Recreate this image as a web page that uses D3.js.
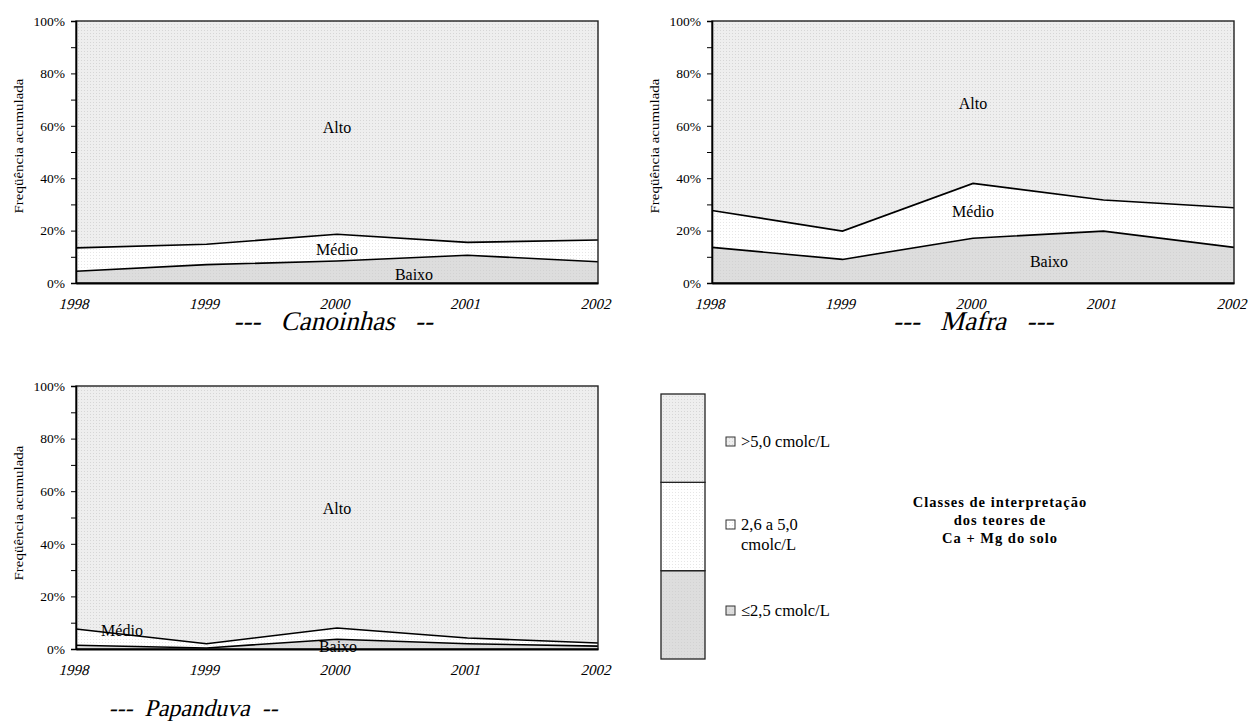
<!DOCTYPE html>
<html>
<head>
<meta charset="utf-8">
<script src="https://cdn.jsdelivr.net/npm/d3@7"></script>
<style>
  html, body { margin: 0; padding: 0; background: #fff; }
  svg { display: block; }
  svg text { font-family: "Liberation Serif", "Times New Roman", serif; fill: #000; }
</style>
</head>
<body>
<svg id="chart" width="1249" height="724"></svg>
<script>
// Years sampled
const years = [1998, 1999, 2000, 2001, 2002];
const classKeys = ["baixo", "medio", "alto"];
const classNames = ["Baixo", "Médio", "Alto"];
const yTicks = [0, 10, 20, 30, 40, 50, 60, 70, 80, 90, 100];

// Share of samples (%) in each Ca + Mg class, per municipality
const canoinhasBaixo = [4.5, 7.0, 8.4, 10.6, 8.1];
const canoinhasMedio = [8.9, 7.8, 10.2, 4.9, 8.3];
const mafraBaixo = [13.6, 9.0, 17.1, 19.8, 13.6];
const mafraMedio = [14.1, 10.8, 20.9, 11.9, 15.1];
const papanduvaBaixo = [1.4, 0.4, 3.7, 2.0, 1.1];
const papanduvaMedio = [6.2, 1.6, 4.3, 2.2, 1.2];

// Legend entries
const legendLabels = [[">5,0 cmolc/L"], ["2,6 a 5,0", "cmolc/L"], ["\u22642,5 cmolc/L"]];
const legendTitle = ["Classes de interpretação", "dos teores de", "Ca + Mg do solo"];

const SLANT = "skewX(-14)";
const svg = d3.select("#chart");

// Dotted fills
const defs = svg.append("defs");
function dotPattern(id, base, dot, size) {
  const p = defs.append("pattern").attr("id", id)
    .attr("width", size).attr("height", size).attr("patternUnits", "userSpaceOnUse");
  p.append("rect").attr("width", size).attr("height", size).attr("fill", base);
  p.append("rect").attr("x", 0).attr("y", 0).attr("width", 1).attr("height", 1).attr("fill", dot);
}
dotPattern("pAlto", "#eeeeee", "#d6d6d6", 3);
dotPattern("pMedio", "#ffffff", "#e6e6e6", 3);
dotPattern("pBaixo", "#dddddd", "#d2d2d2", 3);
const fills = { alto: "url(#pAlto)", medio: "url(#pMedio)", baixo: "url(#pBaixo)" };

// slanted serif text anchored at (x, y)
function slanted(parent, x, y, size, str) {
  return parent.append("g").attr("transform", `translate(${x},${y})`)
    .append("text").attr("transform", SLANT)
    .attr("text-anchor", "middle").attr("font-size", size)
    .style("white-space", "pre")
    .text(str);
}

function panel(cfg) {
  const { x0, x1, y0, y1, baixo, medio, title, titleX, titleY, titleSize, labels, axisLabelX, axisLabelY } = cfg;
  const rows = years.map((yr, i) => ({
    year: yr, baixo: baixo[i], medio: medio[i], alto: 100 - baixo[i] - medio[i]
  }));
  const x = d3.scaleLinear().domain(d3.extent(years)).range([x0, x1]);
  const y = d3.scaleLinear().domain([0, 100]).range([y1, y0]);
  const series = d3.stack().keys(classKeys)(rows);
  const g = svg.append("g");

  const area = d3.area().x(d => x(d.data.year)).y0(d => y(d[0])).y1(d => y(d[1]));
  g.selectAll("path.band").data(series).join("path")
    .attr("class", "band")
    .attr("d", area)
    .attr("fill", s => fills[s.key]);

  // boundary lines between classes
  const line = d3.line().x(d => x(d.data.year)).y(d => y(d[1]));
  g.selectAll("path.edge").data(series.slice(0, 2)).join("path")
    .attr("class", "edge")
    .attr("d", line)
    .attr("fill", "none").attr("stroke", "#000").attr("stroke-width", 1.6);

  // frame
  g.append("rect").attr("x", x0).attr("y", y0).attr("width", x1 - x0).attr("height", y1 - y0)
    .attr("fill", "none").attr("stroke", "#222").attr("stroke-width", 1.4);

  // y axis
  const yAxis = d3.axisLeft(y).tickValues(yTicks).tickSize(5).tickPadding(6)
    .tickFormat(d => d % 20 === 0 ? d + "%" : "");
  const ya = g.append("g").attr("transform", `translate(${x0},0)`).call(yAxis)
    .attr("font-size", 13.5);
  ya.select(".domain").attr("stroke", "#000").attr("stroke-width", 1.6);
  ya.selectAll(".tick line").attr("stroke", "#000");

  // x axis: year labels only
  const xAxis = d3.axisBottom(x).tickValues(years).tickSize(0).tickPadding(0).tickFormat(d3.format("d"));
  const xa = g.append("g").attr("transform", `translate(0,${y1})`).call(xAxis)
    .attr("font-size", 15);
  xa.select(".domain").attr("stroke", "#000").attr("stroke-width", 1.8);
  xa.selectAll(".tick text")
    .attr("y", 0).attr("dy", "0")
    .attr("transform", `translate(-3,26) ${SLANT}`);

  g.append("text")
    .attr("transform", `translate(${axisLabelX},${axisLabelY}) rotate(-90)`)
    .attr("text-anchor", "middle").attr("font-size", 13)
    .attr("textLength", 135).attr("lengthAdjust", "spacingAndGlyphs")
    .text("Freqüência acumulada");

  g.selectAll("text.cls").data(labels).join("text")
    .attr("class", "cls")
    .attr("x", d => d.x).attr("y", d => d.y)
    .attr("text-anchor", "middle").attr("font-size", 16)
    .text(d => d.text);

  slanted(g, titleX, titleY, titleSize, title);
}

panel({
  x0: 76, x1: 598, y0: 21, y1: 283,
  baixo: canoinhasBaixo, medio: canoinhasMedio,
  title: "---   Canoinhas   --", titleX: 333, titleY: 330, titleSize: 27,
  axisLabelX: 23, axisLabelY: 146,
  labels: [
    { text: classNames[2], x: 337, y: 133 },
    { text: classNames[1], x: 337, y: 255 },
    { text: classNames[0], x: 414, y: 280 }
  ]
});

panel({
  x0: 712, x1: 1234, y0: 21, y1: 283,
  baixo: mafraBaixo, medio: mafraMedio,
  title: "---   Mafra   ---", titleX: 973, titleY: 330, titleSize: 27,
  axisLabelX: 659, axisLabelY: 146,
  labels: [
    { text: classNames[2], x: 973, y: 109 },
    { text: classNames[1], x: 973, y: 217 },
    { text: classNames[0], x: 1049, y: 267 }
  ]
});

panel({
  x0: 76, x1: 598, y0: 386, y1: 649,
  baixo: papanduvaBaixo, medio: papanduvaMedio,
  title: "---  Papanduva  --", titleX: 193, titleY: 716, titleSize: 24,
  axisLabelX: 23, axisLabelY: 513,
  labels: [
    { text: classNames[2], x: 337, y: 514 },
    { text: classNames[1], x: 122, y: 636 },
    { text: classNames[0], x: 338, y: 652 }
  ]
});

// Legend column: three stacked class swatches
const lg = svg.append("g");
const ly = d3.scaleLinear().domain([0, 3]).range([659, 394]);
const legendFills = [fills.baixo, fills.medio, fills.alto];
lg.selectAll("rect.sw").data([0, 1, 2]).join("rect")
  .attr("class", "sw")
  .attr("x", 661).attr("width", 44)
  .attr("y", i => ly(i + 1)).attr("height", i => ly(i) - ly(i + 1))
  .attr("fill", i => legendFills[i])
  .attr("stroke", "#222").attr("stroke-width", 1.3);

const legendRows = [
  { lines: legendLabels[0], y: 447, fill: fills.alto },
  { lines: legendLabels[1], y: 530, fill: fills.medio },
  { lines: legendLabels[2], y: 616, fill: fills.baixo }
];
legendRows.forEach(r => {
  lg.append("rect").attr("x", 726).attr("y", r.y - 10).attr("width", 9).attr("height", 9)
    .attr("fill", r.fill).attr("stroke", "#333").attr("stroke-width", 1);
  const t = lg.append("text").attr("x", 741).attr("y", r.y).attr("font-size", 16.5);
  r.lines.forEach((s, k) => {
    t.append("tspan").attr("x", 741).attr("dy", k === 0 ? 0 : 20).text(s);
  });
});

lg.selectAll("text.lt").data(legendTitle).join("text")
  .attr("class", "lt")
  .attr("x", 1000).attr("y", (d, i) => 507 + i * 18)
  .attr("text-anchor", "middle").attr("font-size", 14.5).attr("font-weight", "bold")
  .attr("letter-spacing", 1)
  .text(d => d);
</script>
</body>
</html>
